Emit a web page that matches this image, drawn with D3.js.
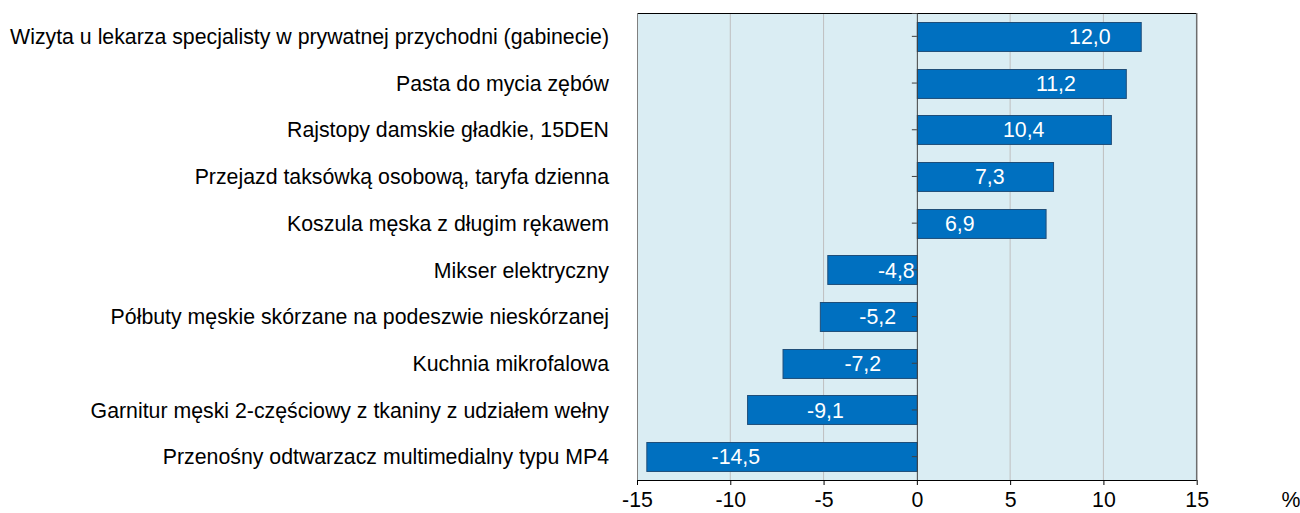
<!DOCTYPE html>
<html><head><meta charset="utf-8">
<script src="https://cdn.jsdelivr.net/npm/d3@7"></script>
<style>body{margin:0;background:#fff}svg{display:block}text{font-family:"Liberation Sans",Arial,sans-serif}</style>
</head><body>
<script>
const categories = [
  "Wizyta u lekarza specjalisty w prywatnej przychodni (gabinecie)",
  "Pasta do mycia zębów",
  "Rajstopy damskie gładkie, 15DEN",
  "Przejazd taksówką osobową, taryfa dzienna",
  "Koszula męska z długim rękawem",
  "Mikser elektryczny",
  "Półbuty męskie skórzane na podeszwie nieskórzanej",
  "Kuchnia mikrofalowa",
  "Garnitur męski 2-częściowy z tkaniny z udziałem wełny",
  "Przenośny odtwarzacz multimedialny typu MP4"
];
const values = [12.0, 11.2, 10.4, 7.3, 6.9, -4.8, -5.2, -7.2, -9.1, -14.5];
const xTicks = [-15, -10, -5, 0, 5, 10, 15];
const unitLabel = "%";
// where each value label sits (in data units, as placed in the original)
const labelAt = [9.27, 7.45, 5.73, 3.91, 2.30, -1.10, -2.1, -2.9, -4.9, -9.7];

const W = 1300, H = 513;
const FS = 21.3;
const m = {left: 637, right: 1196.7, top: 13, bottom: 480};
const svg = d3.select("body").append("svg").attr("width", W).attr("height", H);
const x = d3.scaleLinear().domain([-15, 15]).range([m.left, m.right]);
const y = d3.scaleBand().domain(categories).range([m.top, m.bottom]).paddingInner(0.38).paddingOuter(0.19);
const fmt = v => d3.format(".1f")(v).replace(".", ",").replace("−", "-");

svg.append("rect").attr("x", m.left).attr("y", m.top).attr("width", m.right - m.left).attr("height", m.bottom - m.top).attr("fill", "#DAEDF3");

svg.append("g").selectAll("line").data(xTicks.filter(t => t !== 0 && Math.abs(t) !== 15)).join("line")
  .attr("x1", d => x(d)).attr("x2", d => x(d)).attr("y1", m.top).attr("y2", m.bottom)
  .attr("stroke", "#BFBFBF").attr("stroke-width", 1);

// frame
svg.append("line").attr("x1", m.left).attr("x2", m.right).attr("y1", m.top + 0.5).attr("y2", m.top + 0.5).attr("stroke", "#000");
svg.append("line").attr("x1", m.left + 0.5).attr("x2", m.left + 0.5).attr("y1", m.top).attr("y2", m.bottom).attr("stroke", "#808080");
svg.append("line").attr("x1", m.right).attr("x2", m.right).attr("y1", m.top).attr("y2", m.bottom).attr("stroke", "#6d6d6d").attr("stroke-width", 1.5);

// bars
svg.append("g").selectAll("rect").data(values).join("rect")
  .attr("x", d => x(Math.min(0, d)) + 0.5)
  .attr("y", (d, i) => Math.round(y(categories[i])) + 0.5)
  .attr("width", d => Math.abs(x(d) - x(0)))
  .attr("height", y.bandwidth())
  .attr("fill", "#0070C0").attr("stroke", "#1F4E79").attr("stroke-width", 1);

// zero axis
const yAxis = d3.axisLeft(y).tickSize(5).tickFormat("");
const gy = svg.append("g").attr("transform", `translate(${x(0)},0)`).call(yAxis);
gy.select(".domain").attr("stroke", "#404040");
gy.selectAll(".tick line").attr("stroke", "#404040");

// value labels
svg.append("g").selectAll("text").data(values).join("text")
  .attr("x", (d, i) => x(labelAt[i]))
  .attr("y", (d, i) => y(categories[i]) + y.bandwidth() / 2)
  .attr("dy", "0.36em").attr("text-anchor", "middle")
  .attr("fill", "#fff").attr("font-size", FS)
  .text(d => fmt(d));

// category labels
svg.append("g").selectAll("text").data(categories).join("text")
  .attr("x", 609).attr("y", d => y(d) + y.bandwidth() / 2)
  .attr("dy", "0.36em").attr("text-anchor", "end")
  .attr("fill", "#000").attr("font-size", FS)
  .text(d => d);

// bottom axis
const xAxis = d3.axisBottom(x).tickValues(xTicks).tickSize(5).tickPadding(7).tickFormat(d => String(d));
const gx = svg.append("g").attr("transform", `translate(0,${m.bottom})`).call(xAxis);
gx.select(".domain").attr("stroke", "#000").attr("d", `M${m.left},0.5H${m.right}`);
gx.selectAll(".tick line").attr("stroke", "#000");
gx.selectAll(".tick text").attr("font-size", FS).attr("fill", "#000").attr("font-family", "'Liberation Sans',Arial,sans-serif");

svg.append("text").attr("x", 1291).attr("y", 507).attr("text-anchor", "middle").attr("font-size", FS).text(unitLabel);
</script>
</body></html>
